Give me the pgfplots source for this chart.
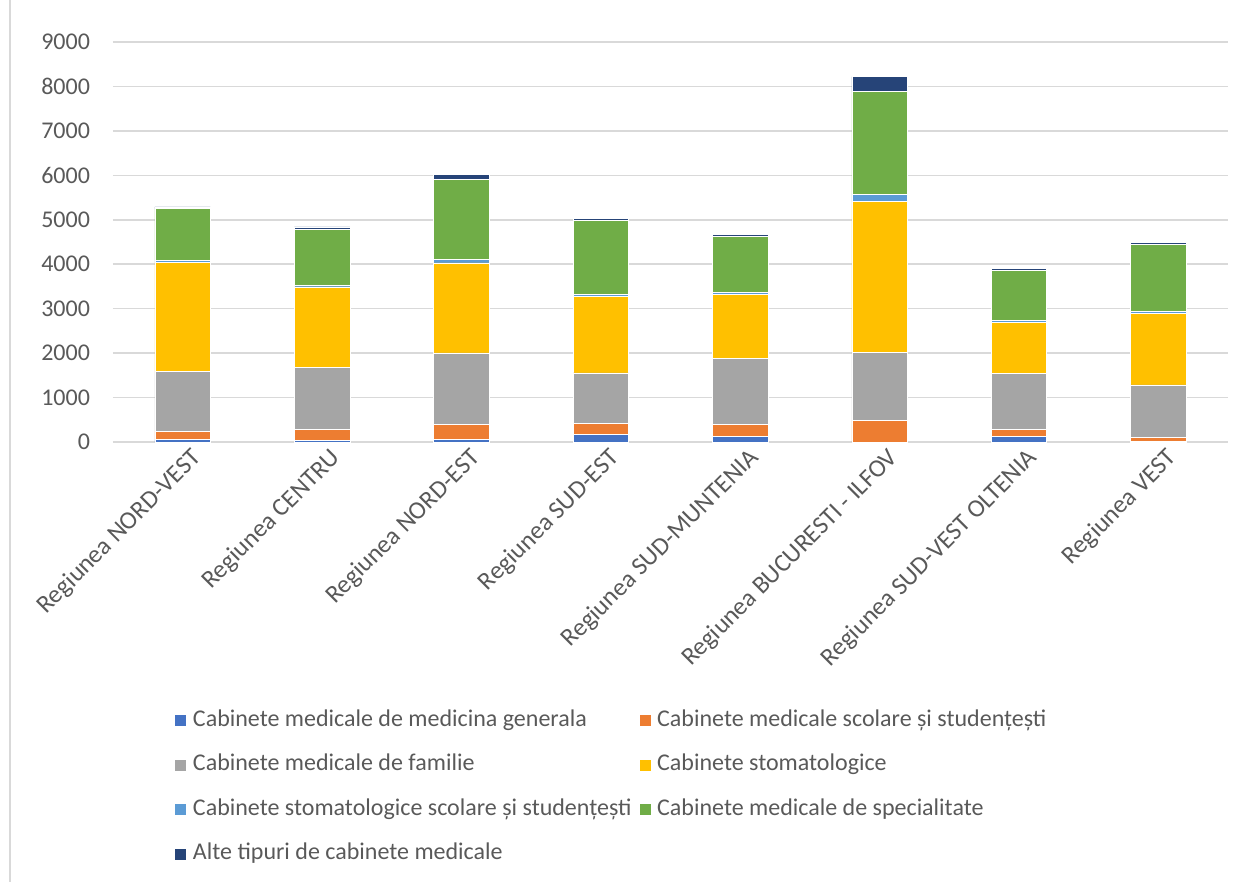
\documentclass[border=0pt]{standalone}
\usepackage{pgfplots}
\pgfplotsset{compat=1.18}
\usepackage{pgfplotstable}
\usepackage{fontspec}
\setmainfont{Carlito}
\definecolor{c1}{HTML}{4472C4}
\definecolor{c2}{HTML}{ED7D31}
\definecolor{c3}{HTML}{A5A5A5}
\definecolor{c4}{HTML}{FFC000}
\definecolor{c5}{HTML}{5B9BD5}
\definecolor{c6}{HTML}{70AD47}
\definecolor{c7}{HTML}{264478}
\definecolor{txt}{HTML}{595959}
\definecolor{gridc}{HTML}{D9D9D9}
\pgfplotstableread{
cat gen sco fam sto sss spe alt
0 55 185 1342 2459 39 1170 38
1 35 257 1387 1809 36 1253 61
2 50 355 1600 2023 78 1796 120
3 180 239 1134 1717 60 1657 38
4 126 279 1469 1456 45 1251 45
5 0 479 1546 3389 157 2318 331
6 126 158 1260 1140 45 1132 54
7 10 102 1171 1611 45 1507 54
}\datatable
\begin{document}
\begin{tikzpicture}
\useasboundingbox (-56.5pt,-220pt) rectangle (566.5pt,221pt);
\draw[color=gridc, line width=0.75pt] (-51.5pt,-220pt) -- (-51.5pt,221pt);
\begin{axis}[
  at={(0,0)}, anchor=south west,
  scale only axis, width=557.5pt, height=200pt,
  ybar stacked, bar width=27.75pt,
  xmin=-0.5, xmax=7.5, ymin=0, ymax=9000,
  xtick={0,...,7},
  xticklabels={Regiunea NORD-VEST, Regiunea CENTRU, Regiunea NORD-EST, Regiunea SUD-EST, Regiunea SUD-MUNTENIA, Regiunea BUCURESTI - ILFOV, Regiunea SUD-VEST OLTENIA, Regiunea VEST},
  xticklabel style={rotate=45, anchor=north east, font=\fontsize{12.6}{14}\selectfont, text=txt, inner sep=2pt, xshift=3pt, yshift=-2pt},
  ytick={0,1000,...,9000},
  yticklabel style={font=\fontsize{12}{14}\selectfont, text=txt, xshift=-8pt},
  /pgf/number format/assume math mode=true,
  /pgf/number format/set thousands separator={},
  ymajorgrids, grid style={color=gridc, line width=0.75pt},
  axis line style={draw=none},
  tick style={draw=none},
  major tick length=0pt,
  legend columns=2,
  legend cell align=left,
  legend image code/.code={\fill[#1] (0pt,-3pt) rectangle (6pt,3pt);},
  legend style={draw=none, fill=none, at={(0.0547,-0.6675)}, anchor=north west,
    font=\fontsize{12}{14}\selectfont, text=txt, inner sep=0pt, row sep=11.25pt,
    nodes={inner sep=0pt, text height=8.5pt, text depth=2.5pt},
    /tikz/every odd column/.append style={column sep=3pt},
    /tikz/every even column/.append style={column sep=3.5pt}},
]
\addplot[fill=c1, draw=white, line width=0.3pt] table[x=cat, y=gen] {\datatable};
\addlegendentry{Cabinete medicale de medicina generala}
\addplot[fill=c2, draw=white, line width=0.3pt] table[x=cat, y=sco] {\datatable};
\addlegendentry{Cabinete medicale scolare și studențești}
\addplot[fill=c3, draw=white, line width=0.3pt] table[x=cat, y=fam] {\datatable};
\addlegendentry{Cabinete medicale de familie}
\addplot[fill=c4, draw=white, line width=0.3pt] table[x=cat, y=sto] {\datatable};
\addlegendentry{Cabinete stomatologice}
\addplot[fill=c5, draw=white, line width=0.3pt] table[x=cat, y=sss] {\datatable};
\addlegendentry{Cabinete stomatologice scolare și studențești}
\addplot[fill=c6, draw=white, line width=0.3pt] table[x=cat, y=spe] {\datatable};
\addlegendentry{Cabinete medicale de specialitate}
\addplot[fill=c7, draw=white, line width=0.3pt] table[x=cat, y=alt] {\datatable};
\addlegendentry{Alte tipuri de cabinete medicale}
\end{axis}
\end{tikzpicture}
\end{document}
